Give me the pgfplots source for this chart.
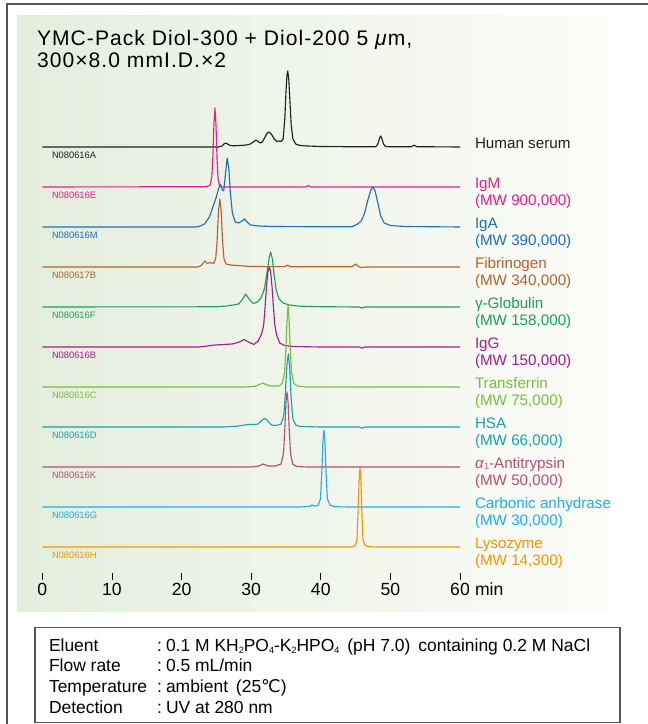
\documentclass[border=0pt]{standalone}
\usepackage{fontspec}
\setmainfont{Liberation Sans}
\newfontfamily\djv{DejaVu Sans}
\newfontfamily\titlefont[LetterSpace=5]{Liberation Sans}
\usepackage{pgfplots}
\pgfplotsset{compat=1.18}

\definecolor{cSerum}{RGB}{35,31,32}
\definecolor{cIgM}{RGB}{230,30,140}
\definecolor{cIgA}{RGB}{30,110,190}
\definecolor{cFib}{RGB}{176,100,45}
\definecolor{cGam}{RGB}{30,160,80}
\definecolor{cIgG}{RGB}{160,30,140}
\definecolor{cTrf}{RGB}{120,190,60}
\definecolor{cHSA}{RGB}{25,160,175}
\definecolor{cAAT}{RGB}{180,80,120}
\definecolor{cCA}{RGB}{30,175,230}
\definecolor{cLys}{RGB}{243,150,0}
\definecolor{framegray}{RGB}{85,85,85}
\definecolor{panelL}{RGB}{228,238,220}
\definecolor{panelR}{RGB}{252,252,249}

\newcommand{\sub}[1]{\raisebox{-0.15ex}{\fontsize{6.8}{8}\selectfont #1}}

\begin{document}
\begin{tikzpicture}
% pixel grid: 1 px = 0.75 pt, y downwards
\begin{scope}[x=0.75pt,y=-0.75pt,shift={(0,543pt)}]
  \fill[white] (0,0) rectangle (648,724);
  \shade[left color=panelL,right color=panelR] (17,16) rectangle (608,612);
  \draw[framegray,line width=1.1pt] (7,724) -- (7,4) -- (648,4);
  \draw[framegray,line width=1pt] (35,627.5) rectangle (620,722.5);
\end{scope}

\begin{axis}[
  at={(31.725pt,108pt)}, anchor=south west,
  scale only axis, width=313.3pt, height=405pt,
  xmin=0, xmax=60, ymin=-580, ymax=-40,
  clip=false,
  axis line style={draw=none},
  ytick=\empty,
  xtick={0,10,...,60},
  xtick pos=left,
  tick align=inside,
  major tick length=5.25pt,
  tick style={black,line width=0.6pt},
  xticklabel style={anchor=base,yshift=-11.6pt,font=\fontsize{13.2}{14}\selectfont},
  /pgf/number format/assume math mode=true,
  every axis plot/.append style={line width=0.85pt,line join=round},
]
% Human serum
\addplot[cSerum,y filter/.expression={y-147}] coordinates {
(0,0) (22,0) (25.3,0) (25.8,1) (26.1,3) (26.35,4) (26.6,3) (27,1.5) (27.5,1.2)
(28.5,1.5) (29.3,2) (29.9,3) (30.3,5) (30.7,7) (31.0,5.5) (31.3,4) (31.6,5)
(32.0,10) (32.3,14) (32.55,15) (32.9,13) (33.3,8) (33.7,5.5) (34.0,6) (34.3,5.5)
(34.6,8) (34.85,30) (35.0,55) (35.15,72) (35.25,76) (35.4,68) (35.55,48)
(35.75,22) (36.0,8) (36.4,3) (37,1.5) (38,1) (40,0.5) (45,0.2) (47.9,0.3)
(48.2,3) (48.4,8) (48.6,11) (48.8,8) (49.0,3) (49.3,0.6) (50,0.2) (53.0,0.3)
(53.4,1.8) (53.8,0.3) (60,0)};
% IgM
\addplot[cIgM,y filter/.expression={y-187}] coordinates {
(0,0) (23.6,0.3) (24.1,2) (24.35,10) (24.5,30) (24.65,62) (24.8,79) (24.95,62)
(25.1,28) (25.25,8) (25.45,1.5) (25.8,0) (37.8,0) (38.2,1.5) (38.6,0) (60,0)};
% IgA
\addplot[cIgA,y filter/.expression={y-227}] coordinates {
(0,0) (22.0,0) (22.5,0.5) (23.3,3) (24.0,10) (24.5,20) (25.0,30) (25.3,38)
(25.6,43) (25.85,37) (26.05,36) (26.3,52) (26.55,69) (26.8,58) (27.0,35)
(27.3,14) (27.7,5) (28.2,4) (28.7,6) (29.05,8) (29.4,5) (29.9,2) (31,1)
(33,0.5) (40,0.2) (44.5,0.3) (45.3,3) (45.8,6) (46.3,14) (46.8,28) (47.2,37)
(47.5,40) (47.8,36) (48.2,24) (48.6,11) (49.1,4) (50,1.5) (52,0.5) (60,0)};
% Fibrinogen
\addplot[cFib,y filter/.expression={y-267}] coordinates {
(0,0) (22.4,0) (22.9,2) (23.35,6) (23.7,3.5) (24.15,4.5) (24.6,3.5) (24.9,8)
(25.1,25) (25.3,55) (25.5,68) (25.7,55) (25.9,25) (26.1,8) (26.4,3) (27,2)
(28.5,1.2) (30,0.5) (34.8,0.3) (35.2,2) (35.6,0.3) (44.5,0.3) (45.0,3)
(45.4,0.5) (45.8,-0.5) (46.5,0) (60,0)};
% gamma-Globulin
\addplot[cGam,y filter/.expression={y-307}] coordinates {
(0,0) (25,0.2) (26.5,1) (27.4,2) (28.2,3) (28.7,7) (29.2,13) (29.7,8)
(30.3,3.5) (30.9,5) (31.4,9) (31.9,18) (32.3,35) (32.6,50) (32.8,55)
(33.05,48) (33.3,32) (33.6,17) (34.0,8) (34.6,4) (35.5,2) (37,0.8) (40,0.3)
(45.5,0) (45.9,-1) (46.4,0) (60,0)};
% IgG
\addplot[cIgG,y filter/.expression={y-347}] coordinates {
(0,0) (22.5,0) (23.5,0.8) (24.5,1.8) (26,2.5) (27.3,3) (28.3,5) (29.0,7.5)
(29.6,5) (30.4,2.5) (31.0,6) (31.5,13) (31.8,22) (32.0,40) (32.2,60) (32.4,75)
(32.6,80) (32.8,75) (33.0,60) (33.2,40) (33.4,22) (33.65,12) (34.1,4)
(34.8,1.5) (36,0.5) (40,0) (45.5,0) (45.9,-1.2) (46.4,0) (60,0)};
% Transferrin
\addplot[cTrf,y filter/.expression={y-387}] coordinates {
(0,0) (29,0) (30.5,0.5) (31.2,2.5) (31.65,4) (32.1,2.5) (32.8,1) (34.0,1)
(34.5,4) (34.8,15) (35.0,40) (35.15,66) (35.3,82) (35.45,66) (35.6,40)
(35.8,15) (36.1,4) (36.6,1) (38,0) (60,0)};
% HSA
\addplot[cHSA,y filter/.expression={y-427}] coordinates {
(0,0) (26,0) (28,0.8) (29.5,2.5) (30.3,2.5) (31.0,3) (31.6,7) (32.0,8.5)
(32.4,6) (32.9,2) (33.6,1.5) (34.3,3) (34.7,12) (34.95,38) (35.15,64)
(35.35,73) (35.55,58) (35.75,28) (36.0,8) (36.4,2) (37,0.5) (40,0) (45.5,0)
(45.9,-1.2) (46.4,0) (60,0)};
% alpha1-Antitrypsin
\addplot[cAAT,y filter/.expression={y-467}] coordinates {
(0,0) (30,0) (31.0,0.8) (31.75,3) (32.4,1) (33.5,1) (34.3,3) (34.65,14)
(34.85,40) (35.0,65) (35.15,75) (35.3,65) (35.45,40) (35.65,14) (35.95,3)
(36.5,0.5) (38,0) (60,0)};
% Carbonic anhydrase
\addplot[cCA,y filter/.expression={y-507}] coordinates {
(0,0) (37,0) (38.3,0.5) (38.75,2) (39.1,0.8) (39.6,1.5) (39.95,8) (40.15,35)
(40.3,65) (40.45,77) (40.6,65) (40.75,35) (40.95,8) (41.3,2) (42,0.3) (44,0)
(60,0)};
% Lysozyme
\addplot[cLys,y filter/.expression={y-547}] coordinates {
(0,0) (44.5,0) (45.0,1.5) (45.2,8) (45.35,35) (45.5,67) (45.63,79) (45.76,67)
(45.9,35) (46.05,8) (46.3,2) (46.8,0.3) (48,0) (60,0)};
\end{axis}

\begin{scope}[x=0.75pt,y=-0.75pt,shift={(0,543pt)},every node/.style={inner sep=0pt,outer sep=0pt}]
  % title
  \node[anchor=base west,font=\titlefont\fontsize{15.8}{17}\selectfont] at (37,46)
    {YMC-Pack Diol-300 + Diol-200 5 \textit{μ}m,};
  \node[anchor=base west,font=\titlefont\fontsize{15.8}{17}\selectfont] at (37,67.5)
    {300×8.0 mmI.D.×2};
  % axis unit
  \node[anchor=base west,font=\fontsize{13.2}{14}\selectfont] at (475,595.5) {min};
  % sample codes
  \begin{scope}[every node/.append style={anchor=base west,font=\fontsize{7}{8}\selectfont}]
    \node[cSerum] at (52,159) {N080616A};
    \node[cIgM] at (52,199) {N080616E};
    \node[cIgA] at (52,239) {N080616M};
    \node[cFib] at (52,279) {N080617B};
    \node[cGam] at (52,319) {N080616F};
    \node[cIgG] at (52,359) {N080616B};
    \node[cTrf] at (52,399) {N080616C};
    \node[cHSA] at (52,439) {N080616D};
    \node[cAAT] at (52,479) {N080616K};
    \node[cCA] at (52,519) {N080616G};
    \node[cLys] at (52,559) {N080616H};
  \end{scope}
  % trace labels
  \begin{scope}[every node/.append style={anchor=base west,font=\fontsize{11.4}{13}\selectfont}]
    \node[cSerum] at (475,149) {Human serum};
    \node[cIgM] at (475,188.5) {IgM};
    \node[cIgM] at (475,206) {(MW 900,000)};
    \node[cIgA] at (475,228.5) {IgA};
    \node[cIgA] at (475,246) {(MW 390,000)};
    \node[cFib] at (475,268.5) {Fibrinogen};
    \node[cFib] at (475,286) {(MW 340,000)};
    \node[cGam] at (475,308.5) {γ-Globulin};
    \node[cGam] at (475,326) {(MW 158,000)};
    \node[cIgG] at (475,348.5) {IgG};
    \node[cIgG] at (475,366) {(MW 150,000)};
    \node[cTrf] at (475,388.5) {Transferrin};
    \node[cTrf] at (475,406) {(MW 75,000)};
    \node[cHSA] at (475,428.5) {HSA};
    \node[cHSA] at (475,446) {(MW 66,000)};
    \node[cAAT] at (475,468.5) {\textit{α}\sub{1}-Antitrypsin};
    \node[cAAT] at (475,486) {(MW 50,000)};
    \node[cCA] at (475,508.5) {Carbonic anhydrase};
    \node[cCA] at (475,526) {(MW 30,000)};
    \node[cLys] at (475,548.5) {Lysozyme};
    \node[cLys] at (475,566) {(MW 14,300)};
  \end{scope}
  % conditions box
  \begin{scope}[every node/.append style={anchor=base west,font=\fontsize{13.1}{14}\selectfont}]
    \node at (49,651.7) {Eluent};
    \node at (49,672) {Flow rate};
    \node at (49,692.7) {Temperature};
    \node at (49,713) {Detection};
    \node at (157,651.7) {:};
    \node at (157,672) {:};
    \node at (157,692.7) {:};
    \node at (157,713) {:};
    \node at (166,651.7) {0.1 M KH\sub{2}PO\sub{4}-K\sub{2}HPO\sub{4}\hspace{0.45em}(pH 7.0)\hspace{0.45em}containing 0.2 M NaCl};
    \node at (166,672) {0.5 mL/min};
    \node at (166,692.7) {ambient\hspace{0.45em}(25{\djv ℃})};
    \node at (166,713) {UV at 280 nm};
  \end{scope}
\end{scope}
% fix the page to the reference's size
\pgfresetboundingbox
\useasboundingbox (0,0) rectangle (486pt,543pt);
\end{tikzpicture}
\end{document}
